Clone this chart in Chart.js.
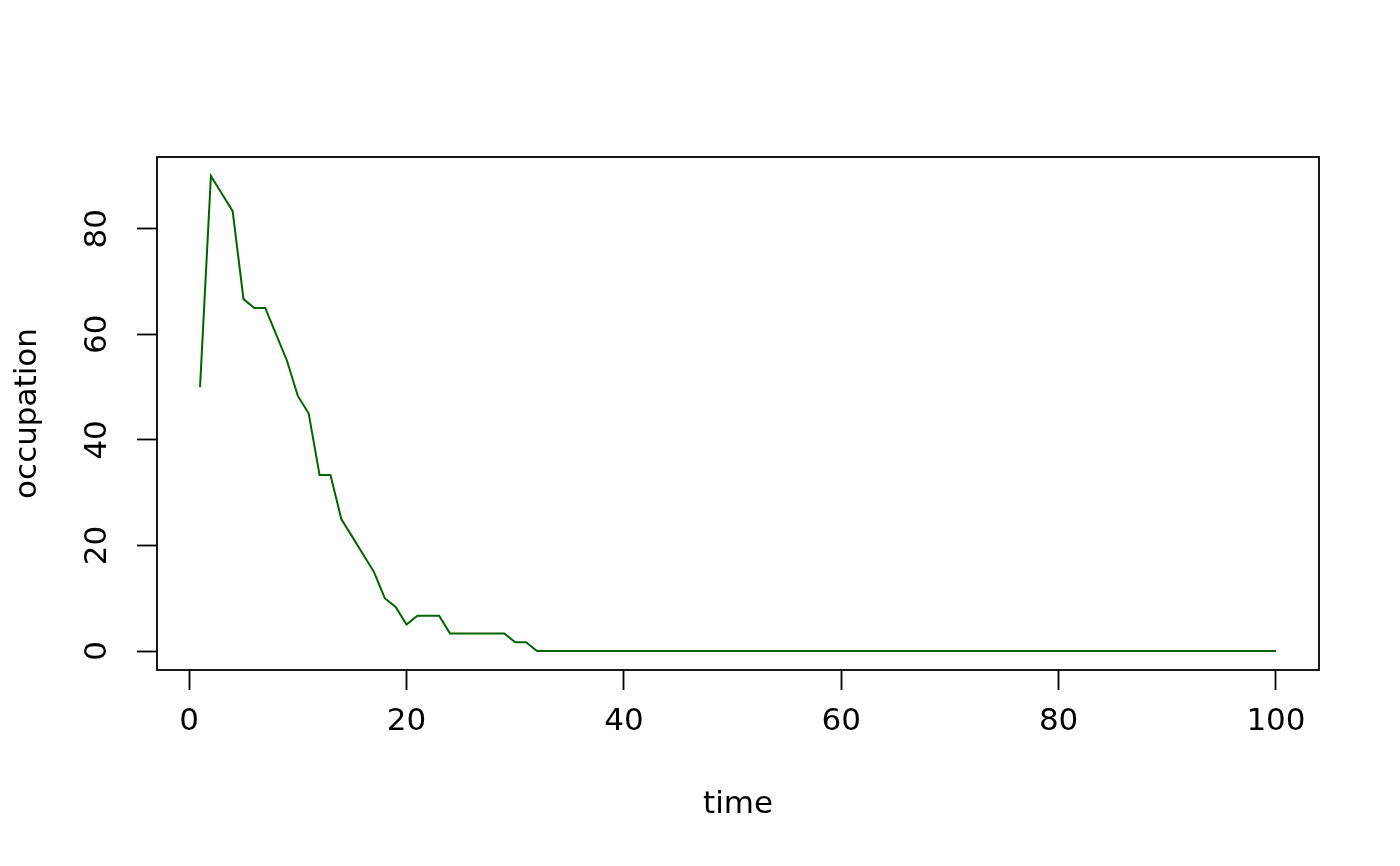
<!DOCTYPE html>
<html>
<head>
<meta charset="utf-8">
<script src="https://cdn.jsdelivr.net/npm/chart.js@4/dist/chart.umd.min.js"></script>
<style>
  html, body { margin: 0; padding: 0; background: #fff; }
  #wrap { width: 1400px; height: 866px; }
</style>
</head>
<body>
<div id="wrap"><canvas id="occupationChart"></canvas></div>
<script>
// time steps 1..100
const time = [
  1, 2, 3, 4, 5, 6, 7, 8, 9, 10,
  11, 12, 13, 14, 15, 16, 17, 18, 19, 20,
  21, 22, 23, 24, 25, 26, 27, 28, 29, 30,
  31, 32, 33, 34, 35, 36, 37, 38, 39, 40,
  41, 42, 43, 44, 45, 46, 47, 48, 49, 50,
  51, 52, 53, 54, 55, 56, 57, 58, 59, 60,
  61, 62, 63, 64, 65, 66, 67, 68, 69, 70,
  71, 72, 73, 74, 75, 76, 77, 78, 79, 80,
  81, 82, 83, 84, 85, 86, 87, 88, 89, 90,
  91, 92, 93, 94, 95, 96, 97, 98, 99, 100
];

const occupation = [
  50, 90, 86.67, 83.33, 66.67, 65, 65, 60, 55, 48.33,
  45, 33.33, 33.33, 25, 21.67, 18.33, 15, 10, 8.33, 5,
  6.67, 6.67, 6.67, 3.33, 3.33, 3.33, 3.33, 3.33, 3.33, 1.67,
  1.67, 0, 0, 0, 0, 0, 0, 0, 0, 0,
  0, 0, 0, 0, 0, 0, 0, 0, 0, 0,
  0, 0, 0, 0, 0, 0, 0, 0, 0, 0,
  0, 0, 0, 0, 0, 0, 0, 0, 0, 0,
  0, 0, 0, 0, 0, 0, 0, 0, 0, 0,
  0, 0, 0, 0, 0, 0, 0, 0, 0, 0,
  0, 0, 0, 0, 0, 0, 0, 0, 0, 0
];

const xTicks = [0, 20, 40, 60, 80, 100];
const yTicks = [0, 20, 40, 60, 80];

const FONT = "'DejaVu Sans', sans-serif";

// box round the plot area, like R's box()
const boxPlugin = {
  id: 'box',
  afterDraw(chart) {
    const { ctx, chartArea } = chart;
    ctx.save();
    ctx.strokeStyle = '#000';
    ctx.lineWidth = 1.8;
    ctx.strokeRect(chartArea.left, chartArea.top,
      chartArea.right - chartArea.left, chartArea.bottom - chartArea.top);
    ctx.restore();
  }
};

const canvasRef = document.getElementById('occupationChart').getContext('2d');

new Chart(canvasRef, {
  type: 'line',
  data: {
    labels: time,
    datasets: [
      {
        label: 'occupation',
        data: occupation,
        borderColor: '#006400',
        borderWidth: 2,
        pointRadius: 0,
        tension: 0,
        fill: false
      }
    ]
  },
  options: {
    responsive: true,
    maintainAspectRatio: false,
    animation: false,
    events: [],
    layout: { padding: { left: 0, right: 81, top: 157, bottom: 0 } },
    plugins: {
      legend: { display: false },
      tooltip: { enabled: false }
    },
    scales: {
      x: {
        type: 'linear',
        min: -2.96,
        max: 103.96,
        afterBuildTicks: axis => { axis.ticks = xTicks.map(v => ({ value: v })); },
        afterFit: axis => { axis.height = 196; },
        border: { display: false },
        grid: {
          drawOnChartArea: false,
          drawTicks: true,
          tickLength: 20,
          tickWidth: 1.8,
          tickColor: '#000'
        },
        ticks: {
          color: '#000',
          font: { family: FONT, size: 31 },
          padding: 13,
          maxRotation: 0
        },
        title: {
          display: true,
          text: 'time',
          color: '#000',
          font: { family: FONT, size: 31 },
          padding: { top: 0, bottom: 42 }
        }
      },
      y: {
        type: 'linear',
        min: -3.6,
        max: 93.6,
        afterBuildTicks: axis => { axis.ticks = yTicks.map(v => ({ value: v })); },
        afterFit: axis => { axis.width = 157; },
        border: { display: false },
        grid: {
          drawOnChartArea: false,
          drawTicks: true,
          tickLength: 20,
          tickWidth: 1.8,
          tickColor: '#000'
        },
        ticks: {
          color: '#000',
          font: { family: FONT, size: 31 },
          padding: 19,
          minRotation: 90,
          maxRotation: 90,
          crossAlign: 'center'
        },
        title: {
          display: true,
          text: 'occupation',
          color: '#000',
          font: { family: FONT, size: 31 },
          padding: { top: 9, bottom: 0 }
        }
      }
    }
  },
  plugins: [boxPlugin]
});
</script>
</body>
</html>
